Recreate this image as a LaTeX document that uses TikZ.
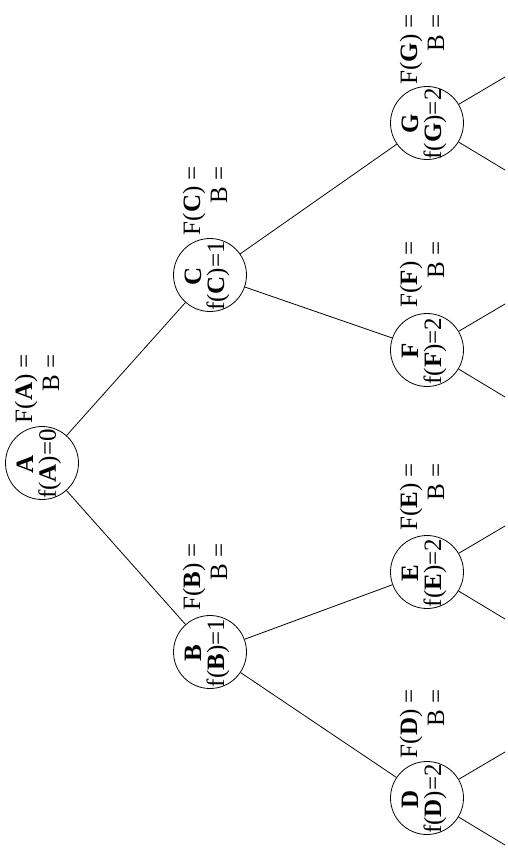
\documentclass[tikz,border=0pt]{standalone}
\usepackage{fontspec}
\setmainfont{Liberation Serif}
\begin{document}
\begin{tikzpicture}[x=1pt,y=-1pt,
  state/.style={draw, circle, minimum size=73pt, inner sep=0pt, line width=0.8pt},
  txt/.style={rotate=90, font=\fontsize{25}{29}\selectfont, inner sep=0pt},
  edge/.style={line width=0.8pt}]
\useasboundingbox (0,0) rectangle (508,863);
\foreach \n/\x/\y/\v in {A/42/463/0, B/210/652/1, C/210/275/1, D/427/798/2, E/427/572/2, F/427/350/2, G/427/123/2} {
  \node[state] (\n) at (\x,\y) {};
  \node[txt, anchor=base] (\n-t1) at (\x-9,\y+1) {\textbf{\n}};
  \node[txt, anchor=base] (\n-t2) at (\x+14,\y+1) {f(\textbf{\n})=\v};
  \node[txt, anchor=base east] (\n-F) at (\x-10,\y-109) {F(\textbf{\n}) =};
  \node[txt, anchor=base east] (\n-B) at (\x+17,\y-109) {B =};
}
\draw[edge] (A) -- (B);
\draw[edge] (A) -- (C);
\draw[edge] (B) -- (D);
\draw[edge] (B) -- (E);
\draw[edge] (C) -- (F);
\draw[edge] (C) -- (G);
\foreach \n/\y in {D/798, E/572, F/350, G/123} {
  \coordinate (\n-u) at (505,\y-46);
  \coordinate (\n-d) at (505,\y+47);
  \draw[edge] (\n) -- (\n-u);
  \draw[edge] (\n) -- (\n-d);
}
\end{tikzpicture}
\end{document}
